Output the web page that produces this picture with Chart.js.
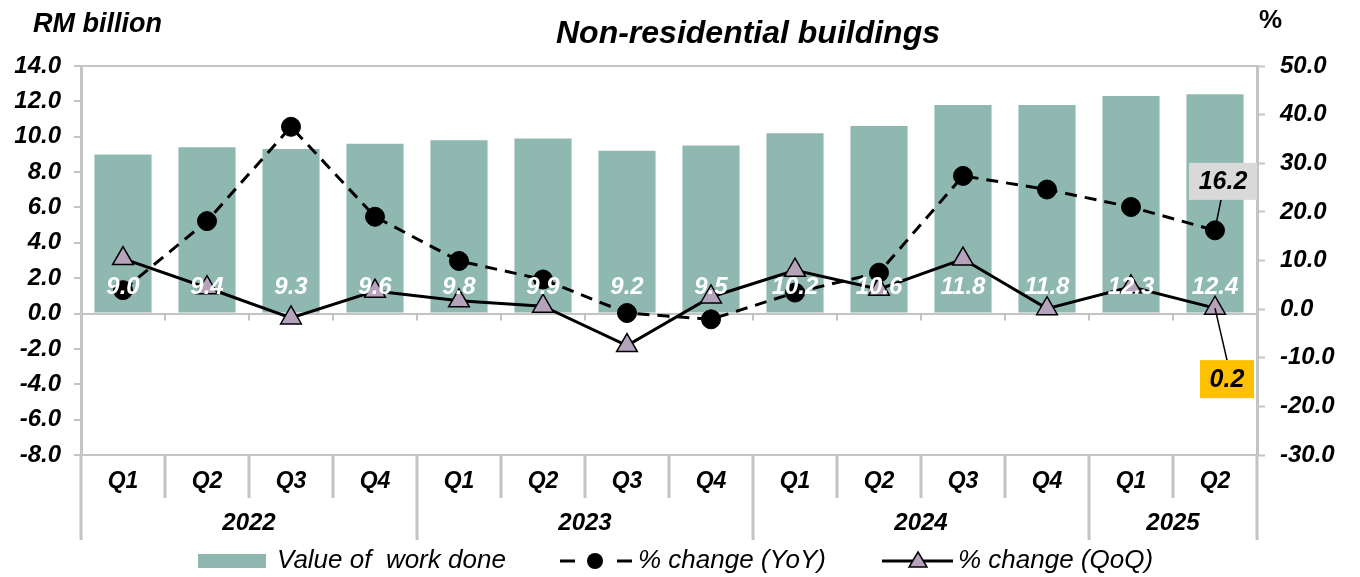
<!DOCTYPE html>
<html>
<head>
<meta charset="utf-8">
<script src="https://cdn.jsdelivr.net/npm/chart.js@4"></script>
<style>
html,body{margin:0;padding:0;background:#fff;}
#wrap{width:1360px;height:577px;position:relative;}
</style>
</head>
<body>
<div id="wrap"><canvas id="c"></canvas></div>
<script>
const quarters = ['Q1','Q2','Q3','Q4','Q1','Q2','Q3','Q4','Q1','Q2','Q3','Q4','Q1','Q2'];
const years = ['2022','2023','2024','2025'];
const yearSpans = [4,4,4,2];
const workDone = [9.0,9.4,9.3,9.6,9.8,9.9,9.2,9.5,10.2,10.6,11.8,11.8,12.3,12.4];
const yoyChange = [3.9,18.1,37.5,19.0,9.9,6.1,-0.8,-2.1,3.4,7.5,27.4,24.6,21.0,16.2];
const qoqChange = [10.4,4.4,-1.8,3.7,1.7,0.6,-7.5,2.5,8.0,4.1,10.3,0.1,4.6,0.2];
const leftTicks = {min:-8, max:14, step:2};
const rightTicks = {min:-30, max:50, step:10};

const FONT = "'Liberation Sans', Arial, sans-serif";
const GRAY = '#C4C4C4';
const BAR = '#8FB8B1';
const TRI = '#B4A3BB';

const deco = {
  id: 'deco',
  beforeDatasetsDraw(chart) {
    const ctx = chart.ctx, a = chart.chartArea, y = chart.scales.y;
    ctx.save();
    ctx.strokeStyle = GRAY; ctx.lineWidth = 2;
    ctx.beginPath(); ctx.moveTo(a.left, a.top); ctx.lineTo(a.right, a.top); ctx.stroke();
    const step = (a.right - a.left) / quarters.length;
    const y0 = y.getPixelForValue(0);
    ctx.beginPath();
    for (let i = 1; i < quarters.length; i++) {
      const px = a.left + i * step;
      ctx.moveTo(px, y0); ctx.lineTo(px, y0 + 7);
    }
    ctx.stroke();
    ctx.restore();
  },
  afterDatasetsDraw(chart) {
    const ctx = chart.ctx;
    ctx.save();
    const barMeta = chart.getDatasetMeta(0);
    ctx.font = 'italic bold 24px ' + FONT;
    ctx.fillStyle = '#fff';
    ctx.textAlign = 'center'; ctx.textBaseline = 'middle';
    barMeta.data.forEach((el, i) => {
      ctx.fillText(workDone[i].toFixed(1), el.x, el.base - 25);
    });
    const yMeta = chart.getDatasetMeta(1);
    const qMeta = chart.getDatasetMeta(2);
    const py = yMeta.data[yMeta.data.length - 1];
    const pq = qMeta.data[qMeta.data.length - 1];
    ctx.strokeStyle = '#000'; ctx.lineWidth = 1.5;
    let bx = py.x + 8, by = py.y - 49, bw = 68, bh = 37;
    ctx.beginPath(); ctx.moveTo(py.x + 1, py.y - 6); ctx.lineTo(bx - 2, by + bh / 2); ctx.stroke();
    ctx.fillStyle = '#D9D9D9';
    ctx.fillRect(bx - bw / 2, by - bh / 2, bw, bh);
    ctx.fillStyle = '#000';
    ctx.font = 'italic bold 25px ' + FONT;
    ctx.fillText(yoyChange[yoyChange.length - 1].toFixed(1), bx, by + 1);
    bx = pq.x + 12; by = pq.y + 71; bw = 54; bh = 38;
    ctx.beginPath(); ctx.moveTo(pq.x, pq.y); ctx.lineTo(bx, by - bh / 2); ctx.stroke();
    ctx.fillStyle = '#FFC000';
    ctx.fillRect(bx - bw / 2, by - bh / 2, bw, bh);
    ctx.fillStyle = '#000';
    ctx.fillText(qoqChange[qoqChange.length - 1].toFixed(1), bx, by + 1);
    ctx.restore();
  },
  afterDraw(chart) {
    const ctx = chart.ctx, a = chart.chartArea;
    ctx.save();
    const step = (a.right - a.left) / quarters.length;
    const yearBounds = [0];
    yearSpans.reduce((s, v) => { yearBounds.push(s + v); return s + v; }, 0);
    ctx.strokeStyle = GRAY; ctx.lineWidth = 3;
    ctx.beginPath();
    for (let i = 0; i <= quarters.length; i++) {
      const px = a.left + i * step;
      const long = yearBounds.includes(i);
      ctx.moveTo(px, a.bottom); ctx.lineTo(px, long ? 540 : 498);
    }
    ctx.stroke();
    ctx.fillStyle = '#000';
    ctx.font = 'italic bold 24px ' + FONT;
    ctx.textAlign = 'center'; ctx.textBaseline = 'middle';
    years.forEach((yr, k) => {
      const cx = a.left + (yearBounds[k] + yearBounds[k + 1]) / 2 * step;
      ctx.fillText(yr, cx, 523);
    });
    ctx.font = 'italic bold 32px ' + FONT;
    ctx.textBaseline = 'alphabetic';
    ctx.fillText('Non-residential buildings', 748, 43);
    ctx.textAlign = 'left';
    ctx.font = 'italic bold 27px ' + FONT;
    ctx.fillText('RM billion', 33, 32);
    ctx.font = 'bold 26px ' + FONT;
    ctx.fillText('%', 1259, 28);
    // legend
    const ly = 561;
    ctx.fillStyle = BAR;
    ctx.fillRect(198, 554, 68, 14);
    ctx.fillStyle = '#000';
    ctx.font = 'italic 26px ' + FONT;
    ctx.textBaseline = 'middle';
    ctx.fillText('Value of  work done', 277, ly);
    ctx.fillText('% change (YoY)', 638, ly);
    ctx.fillText('% change (QoQ)', 958, ly);
    ctx.strokeStyle = '#000'; ctx.lineWidth = 3;
    ctx.beginPath();
    ctx.moveTo(560, ly); ctx.lineTo(575, ly);
    ctx.moveTo(617, ly); ctx.lineTo(632, ly);
    ctx.stroke();
    ctx.beginPath(); ctx.arc(595, ly, 8, 0, Math.PI * 2); ctx.fill();
    ctx.beginPath(); ctx.moveTo(882, ly); ctx.lineTo(953, ly); ctx.stroke();
    ctx.fillStyle = TRI; ctx.lineWidth = 1.5;
    ctx.beginPath();
    ctx.moveTo(918, ly - 9); ctx.lineTo(927, ly + 6); ctx.lineTo(909, ly + 6); ctx.closePath();
    ctx.fill(); ctx.stroke();
    ctx.restore();
  }
};

new Chart(document.getElementById('c'), {
  data: {
    labels: quarters,
    datasets: [
      { type: 'bar', label: 'Value of  work done', data: workDone, yAxisID: 'y',
        backgroundColor: BAR, barPercentage: 0.68, categoryPercentage: 1, order: 3 },
      { type: 'line', label: '% change (YoY)', data: yoyChange, yAxisID: 'y1',
        borderColor: '#000', borderWidth: 3, borderDash: [12, 8], tension: 0,
        pointStyle: 'circle', pointRadius: 9.5, pointBackgroundColor: '#000', pointBorderColor: '#000',
        pointBorderWidth: 1, order: 2 },
      { type: 'line', label: '% change (QoQ)', data: qoqChange, yAxisID: 'y1',
        borderColor: '#000', borderWidth: 3, tension: 0,
        pointStyle: 'triangle', pointRadius: 12, pointBackgroundColor: TRI, pointBorderColor: '#000',
        pointBorderWidth: 1.5, order: 1 }
    ]
  },
  options: {
    responsive: true, maintainAspectRatio: false, animation: false,
    layout: { padding: { top: 66, left: 0, right: 0, bottom: 0 } },
    plugins: { legend: { display: false }, tooltip: { enabled: false }, title: { display: false } },
    scales: {
      x: {
        type: 'category', offset: true,
        grid: { display: true, color: 'transparent', drawOnChartArea: false, drawTicks: false },
        border: { display: true, color: GRAY, width: 2 },
        ticks: { color: '#000', font: { family: FONT, size: 23, style: 'italic', weight: 'bold' }, padding: 13, maxRotation: 0, autoSkip: false },
        afterFit(s) { s.height = 122; }
      },
      y: {
        position: 'left', min: leftTicks.min, max: leftTicks.max,
        grid: { color: c => (c.tick && c.tick.value === 0) ? GRAY : 'transparent', lineWidth: 2,
                drawTicks: true, tickLength: 7, tickColor: GRAY, tickWidth: 2 },
        border: { display: true, color: GRAY, width: 3 },
        ticks: { stepSize: leftTicks.step, color: '#000', padding: 13,
                 font: { family: FONT, size: 24, style: 'italic', weight: 'bold' },
                 callback: v => Number(v).toFixed(1) },
        afterFit(s) { s.width = 81; }
      },
      y1: {
        position: 'right', min: rightTicks.min, max: rightTicks.max,
        grid: { drawOnChartArea: false, drawTicks: true, tickLength: 8, tickColor: GRAY, tickWidth: 2 },
        border: { display: true, color: GRAY, width: 3 },
        ticks: { stepSize: rightTicks.step, color: '#000', padding: 15,
                 font: { family: FONT, size: 24, style: 'italic', weight: 'bold' },
                 callback: v => Number(v).toFixed(1) },
        afterFit(s) { s.width = 103; }
      }
    }
  },
  plugins: [deco]
});
</script>
</body>
</html>
